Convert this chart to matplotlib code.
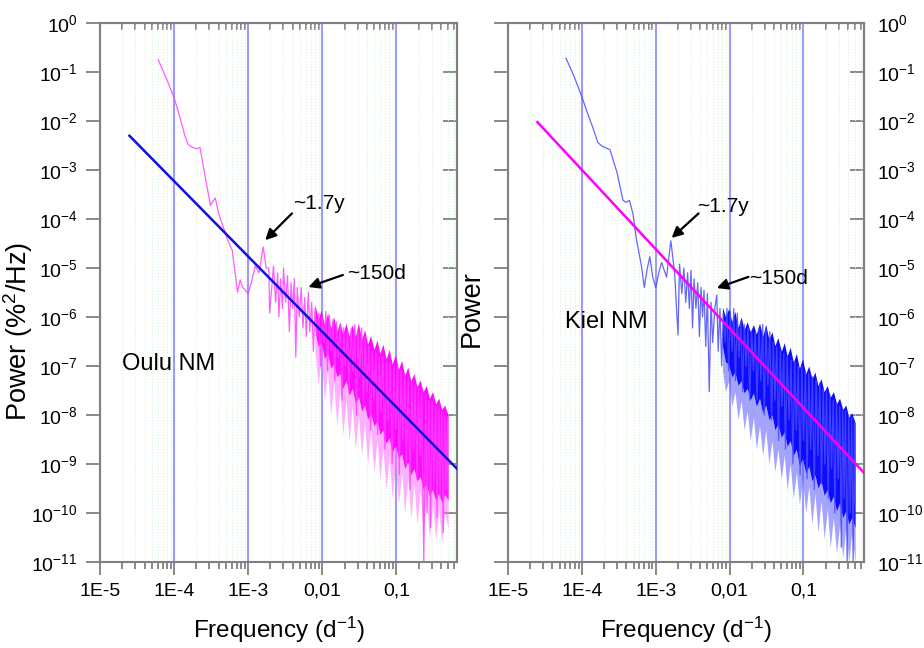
import matplotlib
matplotlib.use('Agg')
import matplotlib.pyplot as plt
from matplotlib.ticker import FixedLocator, NullFormatter, NullLocator

plt.rcParams['font.family'] = ['Liberation Sans', 'DejaVu Sans']
plt.rcParams['mathtext.fontset'] = 'custom'
plt.rcParams['mathtext.rm'] = 'Liberation Sans'
plt.rcParams['mathtext.it'] = 'Liberation Sans:italic'

# ---- data ----
# Oulu NM periodogram (frequency in 1/d, power)
oulu_freq = [6.1e-5, 7e-5, 8e-5, 1e-4, 1.2e-4, 1.4e-4, 1.55e-4, 1.7e-4, 2.0e-4, 2.24e-4,
             2.6e-4, 3.1e-4, 3.6e-4, 4.0e-4, 5.3e-4, 6.1e-4, 7.2e-4, 7.8e-4, 8.5e-4, 1.0e-3,
             1.1e-3, 1.25e-3, 1.4e-3, 1.6e-3, 1.75e-3, 1.9e-3, 1.95e-3, 2.2e-3,
             2.35e-3, 2.5e-3, 2.6e-3, 2.75e-3, 2.9e-3, 3.0e-3, 3.2e-3, 3.4e-3, 3.6e-3, 3.8e-3,
             4.0e-3, 4.2e-3, 4.4e-3, 4.6e-3, 4.9e-3, 5.2e-3, 5.5e-3, 5.8e-3, 6.1e-3, 6.5e-3,
             6.8e-3, 7.2e-3, 7.6e-3, 8.0e-3, 8.5e-3, 9.0e-3, 9.5e-3, 1.0e-2, 1.06e-2, 1.12e-2,
             1.18e-2, 1.25e-2, 1.32e-2, 1.4e-2, 1.48e-2, 1.56e-2, 1.65e-2, 1.75e-2, 1.85e-2, 1.95e-2,
             2.05e-2, 2.2e-2, 2.3e-2, 2.45e-2, 2.6e-2, 2.75e-2, 2.9e-2, 3.05e-2, 3.2e-2, 3.4e-2,
             3.6e-2, 3.8e-2, 4.0e-2, 4.25e-2, 4.5e-2, 4.75e-2, 5.0e-2, 5.3e-2, 5.6e-2, 5.9e-2,
             6.2e-2, 6.6e-2, 7.0e-2, 7.4e-2, 7.8e-2, 8.3e-2, 8.8e-2, 9.3e-2, 9.8e-2, 0.104,
             0.11, 0.116, 0.123, 0.13, 0.137, 0.145, 0.153, 0.162, 0.171, 0.18,
             0.19, 0.2, 0.21, 0.22, 0.235, 0.25, 0.26, 0.275, 0.29, 0.305,
             0.32, 0.34, 0.355, 0.375, 0.39, 0.41, 0.43, 0.45, 0.47, 0.49, 0.5]
oulu_power = [0.18, 0.11, 0.07, 0.03, 0.012, 5e-3, 3.3e-3, 3e-3, 2.7e-3, 2.9e-3,
              8e-4, 1.9e-4, 2.7e-4, 1.3e-4, 3.7e-5, 2.3e-5, 3.2e-6, 5.7e-6, 4e-6, 3e-6,
              5e-6, 1.1e-5, 8e-6, 2.7e-5, 1e-5, 1e-5, 1.2e-6, 1.1e-5,
              2e-6, 8e-6, 1e-6, 6e-6, 1.5e-6, 1e-5, 2e-6, 7e-6, 5e-7, 5e-6,
              1.5e-6, 6e-6, 1.5e-7, 4e-6, 1e-6, 4e-6, 6e-7, 2.5e-6, 4e-7, 3.2e-6,
              5e-7, 2e-6, 2e-7, 1.5e-6, 4e-7, 1.2e-6, 1e-7, 1e-6, 3e-7, 1.3e-6,
              8e-8, 1.1e-6, 2e-7, 9e-7, 5e-8, 8e-7, 1.5e-7, 7e-7, 2e-8, 6e-7,
              1e-7, 5e-7, 3e-8, 6e-7, 8e-8, 7e-7, 1e-8, 5e-7, 6e-8, 6e-7,
              1.5e-8, 4e-7, 3e-8, 2.5e-7, 5e-9, 2e-7, 2e-8, 1.8e-7, 4e-9, 1.5e-7,
              1.2e-8, 1.5e-7, 2e-9, 1.2e-7, 8e-9, 1.2e-7, 1e-9, 1e-7, 5e-9, 1e-7,
              6e-10, 8e-8, 3e-9, 7e-8, 1e-9, 6e-8, 3e-10, 5e-8, 2e-9, 4e-8,
              5e-10, 3.5e-8, 1.5e-9, 3e-8, 1e-11, 2.5e-8, 1e-10, 2e-8, 5e-11, 1.8e-8,
              3e-10, 1.5e-8, 8e-11, 1.3e-8, 2e-10, 1.2e-8, 4e-11, 1e-8, 3e-10, 9e-9, 2e-10]

# Kiel NM periodogram
kiel_freq = [6.1e-5, 7e-5, 8e-5, 1e-4, 1.2e-4, 1.4e-4, 1.65e-4, 1.92e-4, 2.4e-4, 3.0e-4,
             3.6e-4, 4.0e-4, 4.4e-4, 4.9e-4, 5.5e-4, 6.4e-4, 7.0e-4, 7.6e-4, 8.3e-4, 9.1e-4,
             1.0e-3, 1.1e-3, 1.2e-3, 1.4e-3, 1.6e-3, 1.8e-3,
             2.0e-3, 2.1e-3, 2.25e-3, 2.4e-3, 2.55e-3, 2.7e-3, 2.85e-3, 3.0e-3, 3.15e-3, 3.3e-3,
             3.5e-3, 3.7e-3, 3.9e-3, 4.1e-3, 4.3e-3, 4.5e-3, 4.75e-3, 5.0e-3, 5.3e-3, 5.6e-3,
             5.9e-3, 6.3e-3, 6.7e-3, 7.0e-3, 7.4e-3, 7.8e-3, 8.2e-3, 8.7e-3, 9.2e-3, 9.7e-3,
             1.02e-2, 1.08e-2, 1.14e-2, 1.2e-2, 1.27e-2, 1.34e-2, 1.42e-2, 1.5e-2, 1.58e-2, 1.67e-2,
             1.77e-2, 1.87e-2, 1.98e-2, 2.1e-2, 2.22e-2, 2.35e-2, 2.5e-2, 2.65e-2, 2.8e-2, 2.95e-2,
             3.1e-2, 3.3e-2, 3.5e-2, 3.7e-2, 3.9e-2, 4.1e-2, 4.35e-2, 4.6e-2, 4.85e-2, 5.1e-2,
             5.4e-2, 5.7e-2, 6.0e-2, 6.4e-2, 6.8e-2, 7.2e-2, 7.6e-2, 8.0e-2, 8.5e-2, 9.0e-2,
             9.5e-2, 0.1, 0.106, 0.112, 0.118, 0.125, 0.132, 0.14, 0.148, 0.157,
             0.166, 0.175, 0.185, 0.195, 0.205, 0.216, 0.228, 0.24, 0.253, 0.266,
             0.28, 0.295, 0.31, 0.325, 0.34, 0.355, 0.37, 0.39, 0.41, 0.43, 0.45, 0.47, 0.49, 0.5]
kiel_power = [0.19, 0.12, 0.075, 0.031, 0.014, 7.5e-3, 3.6e-3, 3e-3, 2.6e-3, 8.7e-4,
              2.4e-4, 2.2e-4, 2.4e-4, 1.3e-4, 3.7e-5, 1.1e-5, 4e-6, 9e-6, 1.7e-5, 6.5e-6,
              4e-6, 8e-6, 1.3e-5, 6.5e-6, 3.6e-5, 8e-6,
              4.3e-7, 1.2e-5, 3e-6, 1e-5, 2e-6, 8e-6, 1.5e-6, 9e-6, 6e-7, 6e-6,
              1.5e-6, 5e-6, 4e-7, 4e-6, 1e-6, 3.5e-6, 2.5e-7, 3e-6, 3e-8, 2e-6,
              3e-7, 1.5e-6, 2.8e-6, 2e-7, 1.5e-6, 1e-7, 1.2e-6, 3e-7, 1.5e-6, 8e-8,
              1.3e-6, 2e-7, 1.5e-6, 5e-8, 1.2e-6, 1.5e-7, 8e-7, 3e-8, 7e-7, 1e-7,
              6e-7, 2e-8, 5e-7, 8e-8, 5e-7, 2e-8, 6e-7, 5e-8, 7e-7, 1e-8,
              6e-7, 4e-8, 5e-7, 8e-9, 3e-7, 2e-8, 2.5e-7, 3e-9, 2e-7, 1.5e-8,
              1.8e-7, 2e-9, 1.5e-7, 8e-9, 1.3e-7, 1e-9, 1.2e-7, 5e-9, 1e-7, 6e-10,
              1e-7, 3e-9, 8e-8, 5e-10, 7e-8, 2e-9, 6e-8, 3e-10, 5e-8, 1.5e-9,
              4.5e-8, 4e-10, 3.5e-8, 1e-9, 3e-8, 2e-10, 2.5e-8, 8e-10, 2e-8, 1e-10,
              1.8e-8, 5e-10, 1.5e-8, 2e-11, 1.3e-8, 2e-10, 1.2e-8, 1e-11, 1e-8, 1e-10, 9e-9, 1e-11, 7e-9, 1.5e-10]

# dense part of the spectra: solid core and lighter lower fringe
band_freq = [0.008, 0.0088, 0.0097, 0.0107, 0.0118, 0.013, 0.0143, 0.0157, 0.0173, 0.019,
             0.021, 0.023, 0.0254, 0.028, 0.0308, 0.034, 0.0374, 0.041, 0.045, 0.05,
             0.055, 0.06, 0.066, 0.073, 0.08, 0.088, 0.097, 0.107, 0.118, 0.13,
             0.143, 0.157, 0.173, 0.19, 0.21, 0.23, 0.254, 0.28, 0.308, 0.34,
             0.374, 0.41, 0.45, 0.5]
oulu_band_hi = [1.8e-6, 9e-7, 1.4e-6, 7e-7, 1.2e-6, 6e-7, 1e-6, 5e-7, 8e-7, 4.5e-7,
                7.5e-7, 4e-7, 7e-7, 4e-7, 7.5e-7, 3.5e-7, 5.5e-7, 2.8e-7, 4.2e-7, 2.2e-7,
                3.4e-7, 1.8e-7, 2.8e-7, 1.4e-7, 2.2e-7, 1.1e-7, 1.7e-7, 8.5e-8, 1.3e-7, 6.5e-8,
                9.5e-8, 5e-8, 7e-8, 3.8e-8, 5.2e-8, 3e-8, 4e-8, 2.2e-8, 3e-8, 1.7e-8,
                2.2e-8, 1.3e-8, 1.6e-8, 1e-8]
oulu_band_lo = [5e-7, 2.5e-7, 3e-7, 1.4e-7, 1.8e-7, 9e-8, 1.1e-7, 6e-8, 7e-8, 3.5e-8,
                5e-8, 2.5e-8, 3.5e-8, 1.7e-8, 2.4e-8, 1.2e-8, 1.6e-8, 8e-9, 1.1e-8, 6e-9,
                7.5e-9, 4e-9, 5e-9, 2.6e-9, 3.4e-9, 1.7e-9, 2.4e-9, 1.3e-9, 1.6e-9, 8e-10,
                1.1e-9, 6e-10, 8e-10, 4.5e-10, 5.5e-10, 3e-10, 4e-10, 2.2e-10, 3e-10, 1.8e-10,
                2.6e-10, 1.6e-10, 2.4e-10, 1.8e-10]
oulu_fringe_lo = [2e-7, 4e-8, 1.5e-7, 2e-8, 8e-8, 1e-8, 5e-8, 6e-9, 3e-8, 4e-9,
                  2e-8, 3e-9, 1.5e-8, 2e-9, 1e-8, 1.5e-9, 7e-9, 1e-9, 5e-9, 7e-10,
                  3e-9, 5e-10, 2e-9, 3e-10, 1.5e-9, 2e-10, 1e-9, 1.5e-10, 7e-10, 1e-10,
                  5e-10, 8e-11, 4e-10, 6e-11, 3e-10, 4e-11, 2e-10, 3e-11, 1.5e-10, 3e-11,
                  1.2e-10, 2.5e-11, 1e-10, 5e-11]
kiel_band_hi = [1.6e-6, 1e-6, 1.5e-6, 8e-7, 1.3e-6, 6e-7, 1e-6, 5.5e-7, 8e-7, 5e-7,
                7e-7, 4.5e-7, 7.5e-7, 4e-7, 7e-7, 3.5e-7, 5e-7, 2.6e-7, 3.8e-7, 2e-7,
                3e-7, 1.6e-7, 2.4e-7, 1.2e-7, 1.8e-7, 9e-8, 1.4e-7, 7e-8, 1e-7, 5.5e-8,
                7.5e-8, 4e-8, 5.5e-8, 3e-8, 4e-8, 2.3e-8, 3e-8, 1.7e-8, 2.2e-8, 1.3e-8,
                1.6e-8, 9e-9, 1.1e-8, 7e-9]
kiel_band_lo = [2.5e-7, 1.2e-7, 1.1e-7, 6e-8, 7.5e-8, 4e-8, 5e-8, 2.8e-8, 3.5e-8, 2e-8,
                2.8e-8, 1.5e-8, 2.2e-8, 1.1e-8, 1.6e-8, 8e-9, 1e-8, 5e-9, 6.5e-9, 3.5e-9,
                4.5e-9, 2.3e-9, 3e-9, 1.5e-9, 2e-9, 9e-10, 1.3e-9, 6.5e-10, 9e-10, 4.5e-10,
                6e-10, 3.2e-10, 4.5e-10, 2.3e-10, 3e-10, 1.6e-10, 2.2e-10, 1.1e-10, 1.6e-10, 8e-11,
                1.1e-10, 6e-11, 8e-11, 5e-11]
kiel_fringe_lo = [8e-8, 3e-8, 5e-8, 1.5e-8, 3e-8, 8e-9, 2e-8, 5e-9, 1.2e-8, 3e-9,
                  9e-9, 2e-9, 6e-9, 1.5e-9, 5e-9, 1e-9, 3e-9, 7e-10, 2e-9, 5e-10,
                  1.5e-9, 3e-10, 1e-9, 2e-10, 7e-10, 1.5e-10, 5e-10, 1e-10, 3.5e-10, 6e-11,
                  2.5e-10, 4e-11, 1.8e-10, 3e-11, 1.2e-10, 2e-11, 8e-11, 1.5e-11, 6e-11, 1.2e-11,
                  5e-11, 1e-11, 4e-11, 1e-11]

# power-law fits
fit_freq = [2.5e-5, 0.66]
oulu_fit = [5e-3, 8e-10]
kiel_fit = [9.5e-3, 6.6e-10]

xticks = [1e-5, 1e-4, 1e-3, 1e-2, 1e-1]
xticklabels = ['1E-5', '1E-4', '1E-3', '0,01', '0,1']
ydecades = list(range(0, -12, -1))

fig = plt.figure(figsize=(9.24, 6.48), dpi=100)
ax1 = fig.add_axes([0.1082, 0.1327, 0.3864, 0.8318])
ax2 = fig.add_axes([0.5498, 0.1327, 0.3853, 0.8318])

minor_x = [m * 10.0 ** e for e in range(-5, 0) for m in range(2, 10)]
gray = '#808080'

for ax in (ax1, ax2):
    ax.set_xscale('log')
    ax.set_yscale('log')
    ax.set_xlim(1e-5, 0.66)
    ax.set_ylim(1e-11, 1)
    ax.xaxis.set_major_locator(FixedLocator(xticks))
    ax.set_xticklabels(xticklabels)
    ax.xaxis.set_minor_locator(FixedLocator(minor_x))
    ax.xaxis.set_minor_formatter(NullFormatter())
    ax.yaxis.set_major_locator(FixedLocator([10.0 ** d for d in ydecades]))
    ax.yaxis.set_minor_locator(NullLocator())
    ax.grid(True, which='major', axis='x', color='#9a9aff', lw=1.5, zorder=0)
    ax.grid(True, which='minor', axis='x', color='#d6f5d6', lw=0.8, ls=':', zorder=0)
    for s in ax.spines.values():
        s.set_color(gray)
        s.set_linewidth(1.5)
    ax.tick_params(axis='x', which='both', colors=gray, labelcolor='black',
                   labelsize=14, width=1.3, pad=6)
    ax.tick_params(axis='x', which='major', length=9, direction='out')
    ax.tick_params(axis='x', which='minor', length=5, direction='out')
    ax.tick_params(axis='y', which='major', colors=gray, labelcolor='black',
                   labelsize=14, width=1.3, length=10)
    ax.set_xlabel('Frequency (d$^{-1}$)', fontsize=17.5, labelpad=11)

    # inward ticks on the top side
    top = ax.secondary_xaxis('top')
    top.xaxis.set_major_locator(FixedLocator(xticks))
    top.xaxis.set_minor_locator(FixedLocator(minor_x))
    top.xaxis.set_major_formatter(NullFormatter())
    top.xaxis.set_minor_formatter(NullFormatter())
    top.tick_params(which='major', direction='in', length=9, width=1.3, colors=gray)
    top.tick_params(which='minor', direction='in', length=5, width=1.3, colors=gray)
    top.spines['top'].set_color(gray)
    top.spines['top'].set_linewidth(1.5)

ylabels = [r'$10^{%d}$' % d for d in ydecades]

# left panel: Oulu
ax1.yaxis.set_major_formatter(plt.FixedFormatter(ylabels))
ax1.tick_params(axis='y', direction='out', pad=6, left=True, right=False)
r1 = ax1.secondary_yaxis('right')
r1.yaxis.set_major_locator(FixedLocator([10.0 ** d for d in ydecades]))
r1.yaxis.set_minor_locator(NullLocator())
r1.yaxis.set_major_formatter(NullFormatter())
r1.tick_params(direction='in', length=10, width=1.3, colors=gray)
r1.spines['right'].set_color(gray)
r1.spines['right'].set_linewidth(1.5)

ax1.fill_between(band_freq, oulu_fringe_lo, oulu_band_lo, color='#ff70ff',
                 lw=0, alpha=0.55, zorder=2)
ax1.fill_between(band_freq, oulu_band_lo, oulu_band_hi, color='#ff00ff',
                 lw=0, alpha=0.95, zorder=2)
ax1.plot(oulu_freq, oulu_power, color='#ff40ff', lw=0.9, alpha=0.85, zorder=2)
ax1.plot(fit_freq, oulu_fit, color='#1010e0', lw=1.8, zorder=3)
ax1.set_ylabel('Power (%$^2$/Hz)', fontsize=19.5)
ax1.yaxis.set_label_coords(-0.182, 0.427)
ax1.text(0.062, 0.367, 'Oulu NM', transform=ax1.transAxes, fontsize=17,
         ha='left', va='center')

# right panel: Kiel
ax2.yaxis.set_major_formatter(NullFormatter())
ax2.tick_params(axis='y', direction='out', left=True, right=False)
r2 = ax2.secondary_yaxis('right')
r2.yaxis.set_major_locator(FixedLocator([10.0 ** d for d in ydecades]))
r2.yaxis.set_minor_locator(NullLocator())
r2.yaxis.set_major_formatter(plt.FixedFormatter(ylabels))
r2.tick_params(direction='in', length=10, width=1.3, colors=gray,
               labelcolor='black', labelsize=14, pad=9)
r2.spines['right'].set_color(gray)
r2.spines['right'].set_linewidth(1.5)

ax2.fill_between(band_freq, kiel_fringe_lo, kiel_band_lo, color='#5a5aff',
                 lw=0, alpha=0.55, zorder=2)
ax2.fill_between(band_freq, kiel_band_lo, kiel_band_hi, color='#0000ff',
                 lw=0, alpha=0.95, zorder=2)
ax2.plot(kiel_freq, kiel_power, color='#4a4aff', lw=0.9, alpha=0.85, zorder=2)
ax2.plot(fit_freq, kiel_fit, color='#ff00ff', lw=1.8, zorder=3)
ax2.set_ylabel('Power', fontsize=19.5)
ax2.yaxis.set_label_coords(-0.065, 0.471)
ax2.text(0.16, 0.445, 'Kiel NM', transform=ax2.transAxes, fontsize=17,
         ha='left', va='center')

# annotations of the periodicities
arrow = dict(arrowstyle='-|>', color='black', lw=1.6, mutation_scale=16,
             shrinkA=0, shrinkB=0)
ax1.annotate('', xy=(1.7e-3, 3.7e-5), xytext=(3.9e-3, 1.3e-4), arrowprops=arrow)
ax1.text(4.0e-3, 2.1e-4, '~1.7y', fontsize=15, ha='left', va='center')
ax1.annotate('', xy=(6.5e-3, 4.1e-6), xytext=(0.019, 7.2e-6), arrowprops=arrow)
ax1.text(0.0218, 7.9e-6, '~150d', fontsize=15, ha='left', va='center')

ax2.annotate('', xy=(1.64e-3, 4.1e-5), xytext=(3.8e-3, 1.3e-4), arrowprops=arrow)
ax2.text(3.6e-3, 1.8e-4, '~1.7y', fontsize=15, ha='left', va='center')
ax2.annotate('', xy=(6.7e-3, 3.9e-6), xytext=(0.018, 6.6e-6), arrowprops=arrow)
ax2.text(0.0185, 6e-6, '~150d', fontsize=15, ha='left', va='center')

fig.savefig('out.png', dpi=100)
